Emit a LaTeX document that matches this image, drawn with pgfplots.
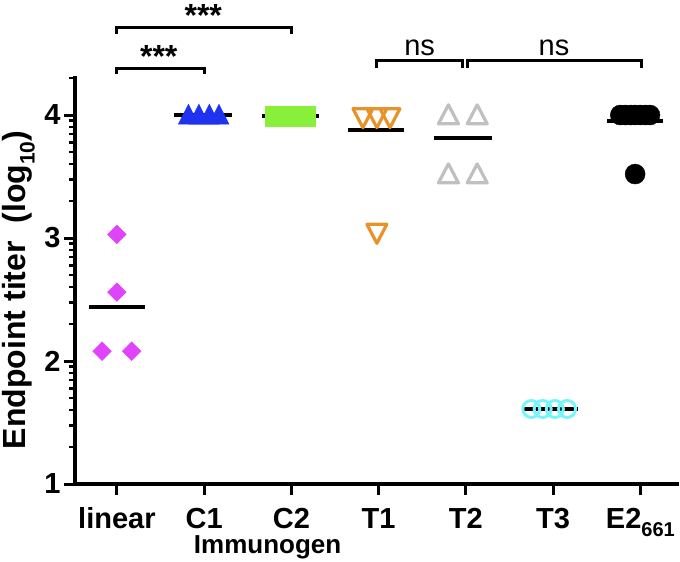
\documentclass[border=0pt]{standalone}
\usepackage{pgfplots}
\pgfplotsset{compat=1.18}
\usepackage{fontspec}
\setmainfont{Liberation Sans}
\definecolor{cLin}{RGB}{224,68,250}
\definecolor{cC1}{RGB}{30,50,240}
\definecolor{cC2}{RGB}{136,240,56}
\definecolor{cT1}{RGB}{232,146,42}
\definecolor{cT2}{RGB}{192,192,192}
\definecolor{cT3}{RGB}{120,245,250}
\begin{document}
\begin{tikzpicture}
\begin{axis}[
  name=ax,
  scale only axis,
  width=602pt, height=406pt,
  xmin=-0.48, xmax=6.42,
  ymin=1, ymax=4.30103,
  axis lines=left,
  axis line style={-, line width=3.5pt, line cap=rect},
  xtick={0,...,6},
  xticklabels={linear,C1,C2,T1,T2,T3,{E2\raisebox{-0.3em}{\fontsize{20}{20}\selectfont 661}}},
  ytick={1,2,3,4},
  minor ytick={1.30103,1.47712,1.60206,1.69897,1.77815,1.84510,1.90309,1.95424,
               2.30103,2.47712,2.60206,2.69897,2.77815,2.84510,2.90309,2.95424,
               3.30103,3.47712,3.60206,3.69897,3.77815,3.84510,3.90309,3.95424,4.30103},
  tick align=outside,
  major tick length=11pt,
  minor tick length=6pt,
  major tick style={line width=3pt, black},
  minor tick style={line width=2.5pt, black},
  /pgf/number format/assume math mode=true,
  xticklabel style={font=\fontsize{29}{29}\selectfont\bfseries, anchor=base, yshift=-33pt, inner sep=1pt},
  yticklabel style={font=\fontsize{29}{29}\selectfont\bfseries},
  xlabel={Immunogen},
  xlabel style={font=\fontsize{26}{26}\selectfont\bfseries, at={(axis description cs:0.32,-0.170)}, anchor=base, inner sep=1pt},
  ylabel={Endpoint titer~~(log\raisebox{-0.3em}{\fontsize{21}{21}\selectfont 10})},
  ylabel style={font=\fontsize{32}{32}\selectfont\bfseries, at={(axis description cs:-0.094,0.478)}, anchor=center, rotate=0},
  clip=false,
]
% mean lines
\addplot[black, line width=4pt] coordinates {(-0.32,2.44) (0.32,2.44)};
\addplot[black, line width=4pt] coordinates {(0.66,4.0) (1.32,4.0)};
\addplot[black, line width=4pt] coordinates {(1.66,3.99) (2.32,3.99)};
\addplot[black, line width=4pt] coordinates {(2.65,3.88) (3.29,3.88)};
\addplot[black, line width=4pt] coordinates {(3.64,3.81) (4.30,3.81)};
\addplot[black, line width=4pt] coordinates {(4.64,1.61) (5.28,1.61)};
\addplot[black, line width=4pt] coordinates {(5.62,3.95) (6.26,3.95)};
% points
\addplot[only marks, mark=square*, mark size=6.6pt, mark options={rotate=45, draw=cLin, fill=cLin, line width=0.5pt}]
  coordinates {(0,3.03) (0,2.56) (-0.17,2.08) (0.17,2.08)};
\addplot[only marks, mark=triangle*, mark size=11.5pt, mark options={yscale=1.15, draw=cC1, fill=cC1, line width=0.5pt}]
  coordinates {(0.82,3.98) (0.94,3.98) (1.06,3.98) (1.17,3.98)};
\addplot[only marks, mark=square*, mark size=10pt, mark options={draw=cC2, fill=cC2, line width=0pt}]
  coordinates {(1.82,3.99) (1.93,3.99) (2.05,3.99) (2.16,3.99)};
\addplot[only marks, mark=triangle, mark size=11.5pt, mark options={rotate=180, yscale=1.1, draw=cT1, line width=3.2pt, line join=round}]
  coordinates {(2.82,4.0) (2.98,4.0) (3.13,4.0) (2.98,3.06)};
\addplot[only marks, mark=triangle, mark size=11.5pt, mark options={yscale=1.1, draw=cT2, line width=3.2pt, line join=round}]
  coordinates {(3.80,3.98) (4.13,3.98) (3.80,3.50) (4.13,3.50)};
\addplot[only marks, mark=o, mark size=8.5pt, mark options={draw=cT3, line width=3pt}]
  coordinates {(4.75,1.61) (4.88,1.61) (5.02,1.61) (5.16,1.61)};
\addplot[only marks, mark=*, mark size=10pt, mark options={draw=black, fill=black}]
  coordinates {(5.77,4.0) (5.83,4.0) (5.89,4.0) (5.94,4.0) (6.0,4.0) (6.06,4.0) (6.11,4.0) (5.94,3.52)};
% significance brackets
\draw[line width=3pt] (axis cs:0,4.66) -- (axis cs:0,4.715) -- (axis cs:2,4.715) -- (axis cs:2,4.66);
\draw[line width=3pt] (axis cs:0,4.33) -- (axis cs:0,4.38) -- (axis cs:1,4.38) -- (axis cs:1,4.33);
\draw[line width=3pt] (axis cs:2.98,4.38) -- (axis cs:2.98,4.445) -- (axis cs:3.96,4.445) -- (axis cs:3.96,4.38);
\draw[line width=3pt] (axis cs:4.02,4.38) -- (axis cs:4.02,4.445) -- (axis cs:6.01,4.445) -- (axis cs:6.01,4.38);
\node[font=\fontsize{32}{32}\selectfont\bfseries, anchor=base] at (axis cs:0.99,4.72) {***};
\node[font=\fontsize{32}{32}\selectfont\bfseries, anchor=base] at (axis cs:0.48,4.39) {***};
\node[font=\fontsize{29}{29}\selectfont, anchor=base] at (axis cs:3.47,4.48) {ns};
\node[font=\fontsize{29}{29}\selectfont, anchor=base] at (axis cs:5.01,4.48) {ns};
\end{axis}
\pgfresetboundingbox
\path ([shift={(-75pt,-77pt)}]ax.south west) rectangle ([shift={(3pt,78pt)}]ax.north east);
\end{tikzpicture}
\end{document}
